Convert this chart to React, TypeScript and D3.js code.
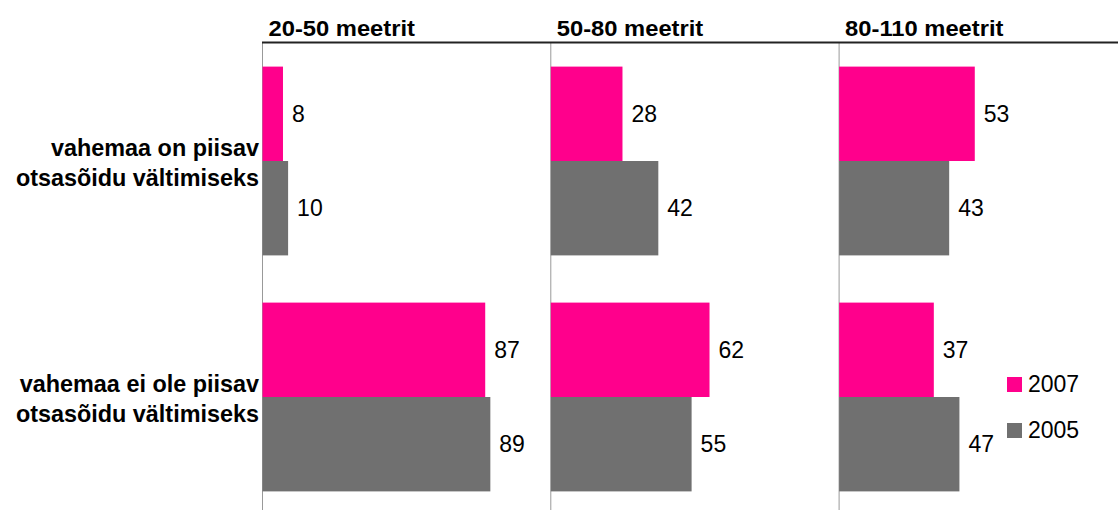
import React from "react";
import * as d3 from "d3";

// Survey: is the following distance sufficient to avoid a head-on collision?
const panels = ["20-50 meetrit", "50-80 meetrit", "80-110 meetrit"];
const categories = [
  ["vahemaa on piisav", "otsasõidu vältimiseks"],
  ["vahemaa ei ole piisav", "otsasõidu vältimiseks"],
];
const seriesNames = ["2007", "2005"];
// values[panel][category] for each year
const values2007 = [
  [8, 87],
  [28, 62],
  [53, 37],
];
const values2005 = [
  [10, 89],
  [42, 55],
  [43, 47],
];
const seriesColors = ["#FF008C", "#707070"];

const W = 1118;
const H = 510;
const FONT = "'Liberation Sans', Arial, Helvetica, sans-serif";

export default function App() {
  const panelScale = d3
    .scaleBand<number>()
    .domain(d3.range(panels.length))
    .range([262.5, 262.5 + 288.3 * 3]);

  const x = d3.scaleLinear().domain([0, 100]).range([0, 256]);

  const catScale = d3
    .scaleBand<number>()
    .domain(d3.range(categories.length))
    .range([43, 515])
    .paddingInner(0.2)
    .paddingOuter(0.1);

  const serScale = d3
    .scaleBand<string>()
    .domain(seriesNames)
    .range([0, catScale.bandwidth()]);

  const seriesValues = [values2007, values2005];
  const topY = 42.5;

  return (
    <svg
      width={W}
      height={H}
      style={{ position: "absolute", left: 0, top: 0, background: "#fff" }}
      fontFamily={FONT}
    >
      {/* panel separators */}
      {panels.map((_, p) => (
        <line
          key={`v${p}`}
          x1={panelScale(p)!}
          x2={panelScale(p)!}
          y1={topY}
          y2={H}
          stroke="#999"
          strokeWidth={1}
        />
      ))}

      {/* bars and value labels */}
      {panels.map((_, p) =>
        categories.map((_, c) =>
          seriesNames.map((s, si) => {
            const v = seriesValues[si][p][c];
            const x0 = panelScale(p)!;
            const y0 = catScale(c)! + serScale(s)!;
            const bh = serScale.bandwidth();
            return (
              <g key={`${p}-${c}-${s}`}>
                <rect
                  x={x0}
                  y={y0}
                  width={x(v)}
                  height={bh}
                  fill={seriesColors[si]}
                />
                <text
                  x={x0 + x(v) + 9}
                  y={y0 + bh / 2}
                  dy="0.36em"
                  fontSize={23}
                  fill="#000"
                >
                  {v}
                </text>
              </g>
            );
          })
        )
      )}

      {/* top rule */}
      <line x1={262} x2={W} y1={topY} y2={topY} stroke="#222" strokeWidth={2} />

      {/* panel titles */}
      {panels.map((t, p) => (
        <text
          key={`t${p}`}
          transform={`translate(${panelScale(p)! + 6}, 36) scale(1.08, 1)`}
          fontSize={22}
          fontWeight="bold"
          fill="#000"
        >
          {t}
        </text>
      ))}

      {/* category labels */}
      {categories.map((lines, c) => {
        const cy = catScale(c)! + catScale.bandwidth() / 2;
        return (
          <text
            key={`c${c}`}
            x={259}
            textAnchor="end"
            fontSize={23.4}
            fontWeight="bold"
            fill="#000"
          >
            {lines.map((l, i) => (
              <tspan key={i} x={259} y={cy - 5 + i * 30}>
                {l}
              </tspan>
            ))}
          </text>
        );
      })}

      {/* legend */}
      {seriesNames.map((s, i) => (
        <g key={`l${s}`} transform={`translate(1007, ${377 + i * 46})`}>
          <rect width={15} height={15} fill={seriesColors[i]} />
          <text x={21} y={15} fontSize={23} fill="#000">
            {s}
          </text>
        </g>
      ))}
    </svg>
  );
}
